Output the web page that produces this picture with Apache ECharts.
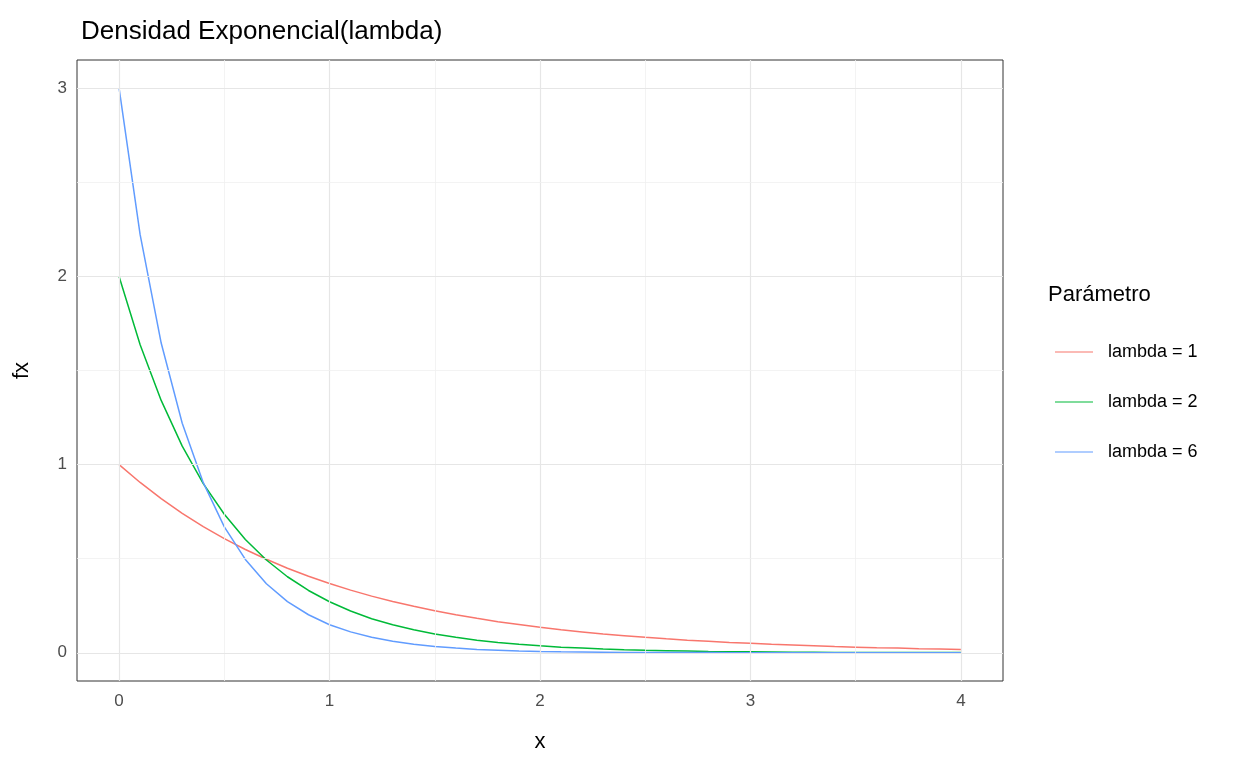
<!DOCTYPE html>
<html><head><meta charset="utf-8">
<script src="https://cdn.jsdelivr.net/npm/echarts@6/dist/echarts.min.js"></script>
<style>html,body{margin:0;background:#fff}#c{width:1248px;height:768px}</style>
</head><body><div id="c"></div>
<script>
const xs = [0,0.1,0.2,0.3,0.4,0.5,0.6,0.7,0.8,0.9,1,1.1,1.2,1.3,1.4,1.5,1.6,1.7,1.8,1.9,2,2.1,2.2,2.3,2.4,2.5,2.6,2.7,2.8,2.9,3,3.1,3.2,3.3,3.4,3.5,3.6,3.7,3.8,3.9,4];
const lambda1 = [1,.905,.819,.741,.670,.607,.549,.497,.449,.407,.368,.333,.301,.273,.247,.223,.202,.183,.165,.150,.135,.122,.111,.100,.091,.082,.074,.067,.061,.055,.050,.045,.041,.037,.033,.030,.027,.025,.022,.020,.018];
const lambda2 = [2,1.637,1.341,1.098,.899,.736,.602,.493,.404,.331,.271,.222,.181,.149,.122,.100,.082,.067,.055,.045,.037,.030,.025,.020,.016,.013,.011,.009,.007,.006,.005,.004,.003,.003,.002,.002,.001,.001,.001,.001,.001];
const lambda6 = [3,2.222,1.646,1.220,.904,.669,.496,.367,.272,.202,.149,.111,.082,.061,.045,.033,.025,.018,.014,.010,.007,.005,.004,.003,.002,.002,.001,.001,.001,0,0,0,0,0,0,0,0,0,0,0,0];
const names = ['lambda = 1','lambda = 2','lambda = 6'];
const colors = ['#F8766D','#00BA38','#619CFF'];
const F = 'Liberation Sans, Arial, sans-serif';
const ch = echarts.init(document.getElementById('c'));
const mk = (n,d,c)=>({name:n,type:'line',symbol:'none',color:c,data:xs.map((x,i)=>[x,d[i]]),lineStyle:{color:c,width:1.5},itemStyle:{color:c}});
ch.setOption({
  animation:false,
  color:colors,
  title:{text:'Densidad Exponencial(lambda)',left:76,top:14,textStyle:{fontFamily:F,fontSize:26,fontWeight:'normal',color:'#000'}},
  grid:{left:77,top:60,width:926,height:621,show:true,borderColor:'#333',borderWidth:1},
  legend:{orient:'vertical',left:1050,top:338,itemWidth:38,itemHeight:14,itemGap:32,icon:'path://M0,7 L38,7 L38,8 L0,8 Z',
    textStyle:{fontFamily:F,fontSize:18,color:'#000',padding:[0,0,0,10]},
    data:names.map((n,i)=>({name:n,itemStyle:{color:colors[i]}}))},
  graphic:[{type:'text',left:1048,top:284,style:{text:'Parámetro',font:'22px '+F,fill:'#000'}}],
  xAxis:{type:'value',min:-0.2,max:4.2,interval:1,
    name:'x',nameLocation:'middle',nameGap:50,nameTextStyle:{fontFamily:F,fontSize:22,color:'#000'},
    axisLine:{show:false},
    axisLabel:{fontFamily:F,fontSize:17,color:'#4d4d4d',margin:12,customValues:[0,1,2,3,4]},
    axisTick:{customValues:[0,1,2,3,4],length:4,lineStyle:{color:'#333'}},
    splitLine:{show:false}},
  yAxis:{type:'value',min:-0.15,max:3.15,
    name:'fx',nameLocation:'middle',nameGap:44,nameTextStyle:{fontFamily:F,fontSize:22,color:'#000'},
    axisLine:{show:false},
    axisLabel:{fontFamily:F,fontSize:17,color:'#4d4d4d',margin:10,customValues:[0,1,2,3]},
    axisTick:{show:true,customValues:[0,1,2,3],length:4,lineStyle:{color:'#333'}},
    splitLine:{show:false}},
  series:[
    {type:'line',name:'grid',silent:true,data:[],markLine:{silent:true,symbol:'none',label:{show:false},
      data:[0,1,2,3,4].map(v=>({xAxis:v,lineStyle:{color:'#e6e6e6',width:1.2,type:'solid'}}))
       .concat([0.5,1.5,2.5,3.5].map(v=>({xAxis:v,lineStyle:{color:'#f0f0f0',width:0.8,type:'solid'}})))
       .concat([0,1,2,3].map(v=>({yAxis:v,lineStyle:{color:'#e6e6e6',width:1.2,type:'solid'}})))
       .concat([0.5,1.5,2.5].map(v=>({yAxis:v,lineStyle:{color:'#f0f0f0',width:0.8,type:'solid'}})))}},
    mk(names[0],lambda1,colors[0]),mk(names[1],lambda2,colors[1]),mk(names[2],lambda6,colors[2])
  ]
});
</script></body></html>
